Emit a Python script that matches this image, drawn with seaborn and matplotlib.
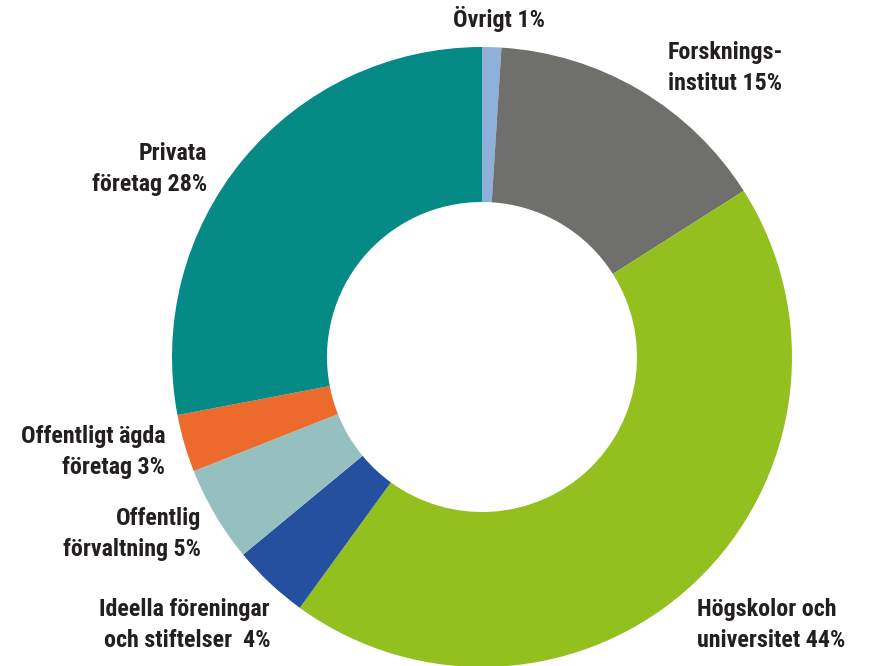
import matplotlib
matplotlib.use("Agg")
import matplotlib.pyplot as plt
import seaborn as sns

# andelar per sektor, medurs från toppen
sektorer = ["Övrigt", "Forskningsinstitut", "Högskolor och universitet",
            "Ideella föreningar och stiftelser", "Offentlig förvaltning",
            "Offentligt ägda företag", "Privata företag"]
andel = [1, 15, 44, 4, 5, 3, 28]
farger = ["#8fb0d8", "#6f6f6c", "#93c01f", "#2550a0", "#96c0bf", "#ec6a2c", "#058a85"]

etiketter = ["Övrigt 1%", "Forsknings-\ninstitut 15%", "Högskolor och\nuniversitet 44%",
             "Ideella föreningar\noch stiftelser  4%", "Offentlig\nförvaltning 5%",
             "Offentligt ägda\nföretag 3%", "Privata\nföretag 28%"]

sns.set_theme(style="white")
plt.rcParams['font.family'] = ['Roboto Condensed', 'DejaVu Sans']

fig = plt.figure(figsize=(8.74, 6.66), dpi=100)
cx, cy, r = 482, 357, 310
ax = fig.add_axes([(cx - r) / 874, (666 - cy - r) / 666, 2 * r / 874, 2 * r / 666])

ax.pie(andel, colors=sns.color_palette(farger), startangle=90, counterclock=False,
       radius=1, wedgeprops=dict(width=0.5, linewidth=0))
ax.set_xlim(-1, 1)
ax.set_ylim(-1, 1)
ax.set_aspect('equal')
ax.axis('off')

# etikettpositioner (pixlar i referensen) -> dataenheter
pos = [(499, 19, 'center'), (668, 68, 'left'), (697, 625, 'left'),
       (270, 625, 'right'), (201, 534, 'right'), (165, 452, 'right'),
       (207, 169, 'right')]
for txt, (px, py, ha) in zip(etiketter, pos):
    ax.text((px - cx) / r, (cy - py) / r, txt, ha=ha, va='center',
            fontsize=17.3, fontweight='bold', color='#231f20',
            linespacing=1.45, clip_on=False)

fig.savefig("out.png", dpi=100)
